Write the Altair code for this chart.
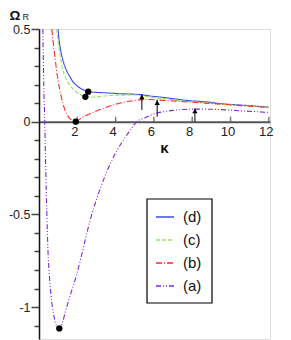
import altair as alt
import pandas as pd

# ---- data ----
series_names = ["(d)", "(c)", "(b)", "(a)"]
series_colors = ["#3a4cf0", "#8ee65c", "#ff2a2a", "#7a2ae0"]
series_dashes = [[1, 0], [4, 2], [6, 2, 1, 2], [5, 2, 1, 2, 1, 2]]

d_x = [0.99, 1.05, 1.16, 1.28, 1.42, 1.6, 1.77, 2.0, 2.2, 2.4, 2.59, 3.0, 3.42, 4.2, 5.16, 5.95, 6.73, 7.69, 8.9, 9.43, 10.5, 11.3, 12.0]
d_y = [0.5, 0.44, 0.37, 0.32, 0.28, 0.245, 0.216, 0.192, 0.178, 0.168, 0.162, 0.158, 0.156, 0.151, 0.147, 0.137, 0.128, 0.115, 0.105, 0.098, 0.09, 0.084, 0.078]

c_x = [0.93, 1.0, 1.08, 1.25, 1.4, 1.51, 1.7, 1.86, 2.05, 2.29, 2.42, 2.7, 3.0, 3.42, 4.2, 5.0, 5.5, 6.0, 6.73, 7.69, 8.9, 9.43, 10.5, 12.0]
c_y = [0.5, 0.43, 0.37, 0.28, 0.235, 0.213, 0.185, 0.168, 0.152, 0.139, 0.134, 0.132, 0.134, 0.139, 0.143, 0.144, 0.138, 0.13, 0.122, 0.109, 0.101, 0.095, 0.088, 0.077]

b_x = [0.67, 0.74, 0.81, 0.9, 0.99, 1.08, 1.16, 1.25, 1.34, 1.45, 1.6, 1.75, 1.9, 2.05, 2.29, 2.6, 2.9, 3.2, 3.6, 4.0, 4.3, 4.7, 5.0, 5.4, 5.8, 6.2, 6.7, 7.6, 8.4, 8.9, 9.43, 10.1, 11.0, 12.0]
b_y = [0.5, 0.43, 0.37, 0.29, 0.225, 0.175, 0.135, 0.098, 0.067, 0.042, 0.018, 0.006, 0.0, 0.008, 0.025, 0.04, 0.054, 0.066, 0.081, 0.094, 0.102, 0.11, 0.115, 0.119, 0.12, 0.117, 0.114, 0.108, 0.102, 0.099, 0.096, 0.09, 0.084, 0.076]

a_x = [0.2, 0.25, 0.3, 0.35, 0.41, 0.47, 0.55, 0.63, 0.73, 0.85, 0.98, 1.08, 1.2, 1.39, 1.65, 1.95, 2.2, 2.5, 2.7, 3.0, 3.42, 3.8, 4.07, 4.5, 4.8, 5.1, 5.5, 6.0, 6.4, 7.0, 8.1, 9.0, 10.5, 12.0]
a_y = [0.5, 0.2, 0.0, -0.25, -0.5, -0.7, -0.84, -0.94, -1.02, -1.08, -1.113, -1.115, -1.09, -1.02, -0.93, -0.83, -0.73, -0.6, -0.52, -0.42, -0.3, -0.21, -0.155, -0.085, -0.04, 0.0, 0.02, 0.042, 0.052, 0.061, 0.068, 0.067, 0.059, 0.05]

dot_x = [2.57, 2.42, 1.92, 1.06]
dot_y = [0.162, 0.134, 0.0, -1.115]

arrow_x = [5.37, 6.17, 8.14]
arrow_y0 = [0.063, 0.027, 0.0]
arrow_y1 = [0.148, 0.117, 0.072]

x_tick_values = [2, 4, 6, 8, 10, 12]
y_tick_values = [round(-1.1 + 0.1 * i, 1) for i in range(17)]

x_domain = [0, 12.06]
y_domain = [-1.172, 0.5]

# ---- layout ----
W, H = 231, 310
y0_px = H * (y_domain[1] - 0) / (y_domain[1] - y_domain[0])
FONT = "Liberation Sans"
LEG_X, LEG_Y, LEG_W, LEG_H = 108, 170, 65, 104

rows = []
for name, xs, ys in zip(series_names, [d_x, c_x, b_x, a_x], [d_y, c_y, b_y, a_y]):
    rows += [{"series": name, "k": x, "omega": y} for x, y in zip(xs, ys)]
curves = pd.DataFrame(rows)

dots = pd.DataFrame({"k": dot_x, "omega": dot_y})
arrows = pd.DataFrame({"k": arrow_x, "y0": arrow_y0, "y1": arrow_y1})
xticks = pd.DataFrame({"k": x_tick_values})

major_test = "abs(datum.value*2 - round(datum.value*2)) < 0.001"

x_scale = alt.Scale(domain=x_domain, nice=False, zero=False)
y_scale = alt.Scale(domain=y_domain, nice=False, zero=False)

x_axis = alt.Axis(
    values=x_tick_values, tickCount=50, ticks=False, grid=False, title=None,
    offset=-(H - y0_px), domainColor="#555555", domainWidth=2,
    labelExpr="datum.value + ''",
    labelFont=FONT, labelFontSize=13, labelColor="#222222", labelPadding=4,
    labelOffset=-3, labelOverlap=False,
)
y_axis = alt.Axis(
    values=y_tick_values, tickCount=50, grid=False, title=None, labelOverlap=False,
    labelExpr=f"{major_test} ? datum.value + '' : ''",
    tickSize={"condition": {"test": major_test, "value": 8}, "value": 5},
    tickColor="#444444", tickWidth=1.5,
    domainColor="#111111", domainWidth=1.5,
    labelFont=FONT, labelFontSize=12.5, labelColor="#222222", labelPadding=1,
)

legend = alt.Legend(
    orient="none", legendX=LEG_X, legendY=LEG_Y, title=None,
    strokeColor="transparent", padding=8,
    labelFont=FONT, labelFontSize=15, labelColor="#111111",
    symbolType="stroke", symbolSize=324, symbolStrokeWidth=1.5,
    rowPadding=5, labelOffset=8,
)

lines = alt.Chart(curves).mark_line(strokeWidth=1.1, clip=True, interpolate="monotone").encode(
    x=alt.X("k:Q", scale=x_scale, axis=x_axis),
    y=alt.Y("omega:Q", scale=y_scale, axis=y_axis),
    color=alt.Color("series:N", scale=alt.Scale(domain=series_names, range=series_colors), legend=legend),
    strokeDash=alt.StrokeDash("series:N", scale=alt.Scale(domain=series_names, range=series_dashes), legend=legend),
    order=alt.Order("k:Q"),
)

ticks = alt.Chart(xticks).mark_tick(orient="vertical", size=5, thickness=1.5, color="#444444", yOffset=-2.5).encode(
    x=alt.X("k:Q", scale=x_scale),
    y=alt.datum(0),
)

dot_layer = alt.Chart(dots).mark_circle(size=40, color="black", opacity=1).encode(
    x="k:Q", y="omega:Q",
)

arrow_shaft = alt.Chart(arrows).mark_rule(color="black", strokeWidth=1).encode(
    x="k:Q", y="y0:Q", y2="y1:Q",
)
arrow_head = alt.Chart(arrows).mark_point(shape="triangle-up", size=28, filled=True, color="black",
                                          opacity=1, yOffset=2.6).encode(
    x="k:Q", y="y1:Q",
)

frame_df = pd.DataFrame({"f": [1]})
legend_frame = alt.Chart(frame_df).mark_rect(fill="white", stroke="black", strokeWidth=1.2).encode(
    x=alt.value(LEG_X), x2=alt.value(LEG_X + LEG_W),
    y=alt.value(LEG_Y), y2=alt.value(LEG_Y + LEG_H),
)

title_df = pd.DataFrame({"t": ["Ω"]})
omega_title = alt.Chart(title_df).mark_text(font=FONT, fontSize=13.5, fontWeight="bold", align="center",
                                            baseline="alphabetic", color="#111111").encode(
    text="t:N", x=alt.value(-24), y=alt.value(-9),
)
r_df = pd.DataFrame({"t": ["R"]})
r_title = alt.Chart(r_df).mark_text(font=FONT, fontSize=9, align="left", baseline="alphabetic",
                                    color="#222222").encode(
    text="t:N", x=alt.value(-16.5), y=alt.value(-9),
)
k_df = pd.DataFrame({"t": ["κ"]})
k_title = alt.Chart(k_df).mark_text(font=FONT, fontSize=15, fontWeight="bold", align="center",
                                    baseline="alphabetic", color="#111111").encode(
    text="t:N", x=alt.value(125.5), y=alt.value(124),
)

chart = alt.layer(
    lines, ticks, arrow_shaft, arrow_head, dot_layer, legend_frame, omega_title, r_title, k_title
).properties(
    width=W, height=H,
    autosize=alt.AutoSizeParams(type="none"),
    padding={"left": 31, "top": 21, "right": 12, "bottom": 1},
).configure_view(stroke=None).configure(background="white")

chart.save("out.html", embed_options={"renderer": "svg", "actions": False})
